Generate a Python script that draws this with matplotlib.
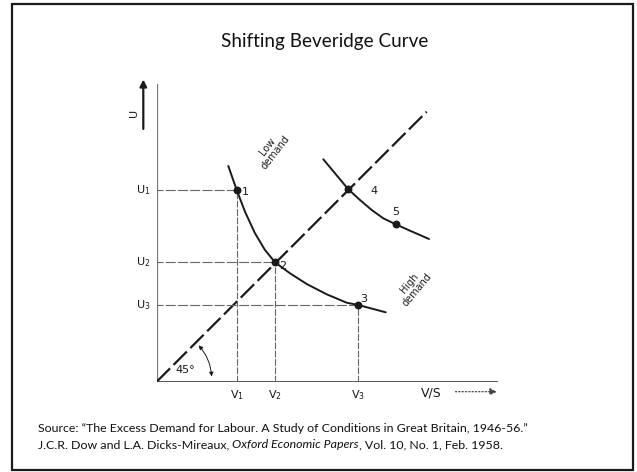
import matplotlib
matplotlib.use('Agg')
import matplotlib.pyplot as plt
from matplotlib.patches import Rectangle

# values (units: pixels from the origin)
low_v = [71.6, 80, 88.3, 98.3, 108.3, 118.3, 133.3, 150, 170, 190, 201.6, 229]
low_u = [215.7, 191.7, 170, 148.4, 131.7, 119.4, 108.4, 97.7, 87.4, 79, 76.7, 69.4]
high_v = [166.6, 178.3, 191.6, 203.3, 215, 226.6, 239, 253.3, 272.3]
high_u = [222.4, 208.4, 192.4, 181.7, 171.7, 163.4, 157.4, 151, 142.7]
diag = [0, 270]

pt_labels = ['1', '2', '3', '4', '5']
pt_v = [80, 118.3, 201.6, 191.6, 239]
pt_u = [191.7, 119.4, 76.7, 192.4, 157.4]

u_labels = [r'$\mathrm{U}_1$', r'$\mathrm{U}_2$', r'$\mathrm{U}_3$']
u_vals = [191.7, 119.4, 76.7]
v_labels = [r'$\mathrm{V}_1$', r'$\mathrm{V}_2$', r'$\mathrm{V}_3$']
v_vals = [80, 118.3, 201.6]

title = 'Shifting Beveridge Curve'
src1 = 'Source: \u201cThe Excess Demand for Labour. A Study of Conditions in Great Britain, 1946-56.\u201d'
src2a = 'J.C.R. Dow and L.A. Dicks-Mireaux, '
src2b = 'Oxford Economic Papers'
src2c = ', Vol. 10, No. 1, Feb. 1958.'

W, H = 637, 472
fig = plt.figure(figsize=(W / 100, H / 100), dpi=100)
fig.patch.set_facecolor('white')

# slide border
fig.patches.append(Rectangle((12 / W, 2 / H), 621 / W, 466 / H, transform=fig.transFigure,
                             fill=False, edgecolor='#1a1a1a', linewidth=1.6))

ox, oy = 156.7, 381.7
ax = fig.add_axes([ox / W, (H - oy) / H, 350 / W, 310 / H])
ax.set_xlim(0, 350)
ax.set_ylim(0, 310)
ax.axis('off')

ink = '#1a1a1a'
guide = '#666666'

# axes
ax.plot([0, 0], [0, 298], color='#777777', lw=0.9)
ax.plot([0, 340], [0, 0], color='#555555', lw=1.4)

# 45 degree dashed line
ax.plot(diag, diag, color=ink, lw=1.6, dashes=(8.5, 2.2))

# curves
ax.plot(low_v, low_u, color=ink, lw=1.4, solid_capstyle='round')
ax.plot(high_v, high_u, color=ink, lw=1.4, solid_capstyle='round')

# dotted guides
for u, v in zip(u_vals, v_vals):
    ax.plot([-4, v], [u, u], color=guide, lw=0.8, dashes=(9, 2))
    ax.plot([v, v], [0, u], color=guide, lw=0.8, dashes=(6, 1.5))

ax.scatter(pt_v, pt_u, s=22, color=ink, zorder=5)

offs = [(5, -2), (4, -4), (2, 6), (22, -2), (-4, 12)]
for lab, v, u, (dx, dy) in zip(pt_labels, pt_v, pt_u, offs):
    ax.text(v + dx, u + dy, lab, fontsize=8, color=ink, va='center', ha='left')

for lab, u in zip(u_labels, u_vals):
    ax.text(-6, u, lab, fontsize=8, color=ink, va='center', ha='right')
for lab, v in zip(v_labels, v_vals):
    ax.text(v, -13, lab, fontsize=8, color=ink, va='center', ha='center')

ax.text(275, -11, 'V/S', fontsize=9, color=ink, va='center', ha='center')
ax.annotate('', xy=(343, -10), xytext=(296, -10),
            arrowprops=dict(arrowstyle='-|>', color='#444444', lw=0.9, linestyle=':'),
            annotation_clip=False)

# U axis arrow
ax.annotate('', xy=(-13.4, 305), xytext=(-13.4, 250),
            arrowprops=dict(arrowstyle='-|>', color=ink, lw=1.6, mutation_scale=10),
            annotation_clip=False)
ax.text(-23, 269, 'U', fontsize=8, rotation=90, color=ink, va='center', ha='center')

# 45 degree arc
ax.annotate('', xy=(55, 2.4), xytext=(40, 38.4),
            arrowprops=dict(arrowstyle='<|-|>', color=ink, lw=0.7, mutation_scale=6,
                            connectionstyle='arc3,rad=-0.2'))
ax.text(28.3, 11.7, '45\u00b0', fontsize=8, color=ink, va='center', ha='center')

ax.text(115, 232, 'Low\ndemand', fontsize=7, rotation=52, color=ink,
        va='center', ha='center', linespacing=1.0)
ax.text(257, 95, 'High\ndemand', fontsize=7, rotation=50, color=ink,
        va='center', ha='center', linespacing=1.0)

# slide text
fs = 8.9
fig.text(325 / W, 1 - 42 / H, title, fontsize=13.6, family='Lato', color='#111111',
         ha='center', va='center')
fig.text(38 / W, 1 - 432 / H, src1, fontsize=fs, family='Lato', color='#111111',
         ha='left', va='baseline')
t2 = fig.text(38 / W, 1 - 448 / H, src2a, fontsize=fs, family='Lato', color='#111111',
              ha='left', va='baseline')
fig.canvas.draw()
r = fig.canvas.get_renderer()
bb = t2.get_window_extent(r)
t4 = fig.text(bb.x1 / W, 1 - 448 / H, src2b, fontsize=fs, family='Lato', style='italic',
              color='#111111', ha='left', va='baseline')
bb = t4.get_window_extent(r)
fig.text(bb.x1 / W, 1 - 448 / H, src2c, fontsize=fs, family='Lato', color='#111111',
         ha='left', va='baseline')

fig.savefig('out.png', dpi=100)
